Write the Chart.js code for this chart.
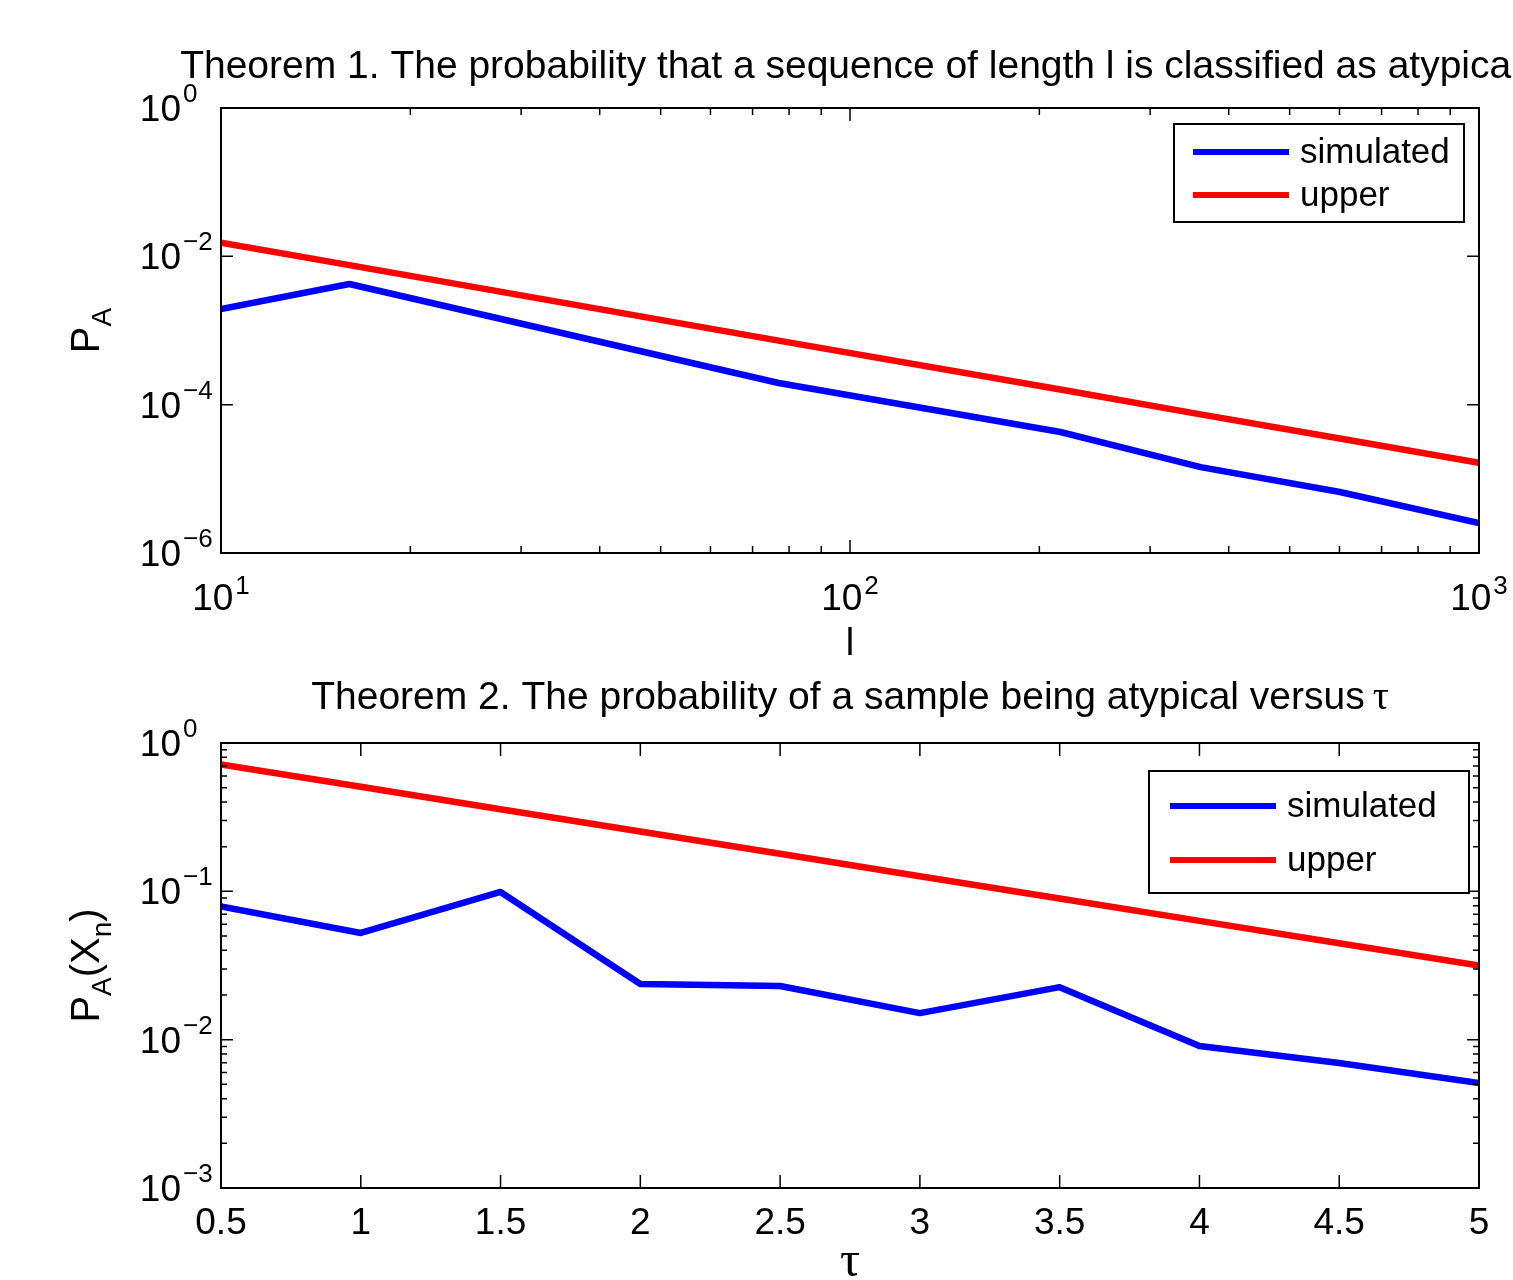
<!DOCTYPE html>
<html lang="en">
<head>
<meta charset="UTF-8">
<title>Atypical sequences - theorems 1 and 2</title>
<script src="https://cdn.jsdelivr.net/npm/chart.js"></script>
<style>
    body { margin: 0; background: #fff; }
    .wrap { position: relative; width: 1513px; height: 1280px; overflow: hidden; }
    canvas { position: absolute; left: 0; }
</style>
</head>
<body>
<div class="wrap">
    <canvas id="theorem1" width="1513" height="660" style="top:0"></canvas>
    <canvas id="theorem2" width="1513" height="620" style="top:660px"></canvas>
</div>
<script>
// Theorem 1 : P_A against sequence length l (log-log)
const lengths = [10, 16, 77, 216, 361, 601, 1000];
const simulated1 = [1.95e-3, 4.24e-3, 1.96e-4, 4.28e-5, 1.44e-5, 6.65e-6, 2.54e-6];
const upper1 = [1.53e-2, 7.6e-3, 7.3e-4, 1.6e-4, 7.4e-5, 3.5e-5, 1.64e-5];

// Theorem 2 : P_A(X_n) against tau
const taus = [0.5, 1, 1.5, 2, 2.5, 3, 3.5, 4, 4.5, 5];
const simulated2 = [0.079, 0.0524, 0.099, 0.0237, 0.023, 0.0151, 0.0226, 0.00906, 0.00696, 0.0051];
const upper2 = [0.717, 0.507, 0.358, 0.253, 0.179, 0.1265, 0.0895, 0.0632, 0.0447, 0.0316];

// tick labels
const xTicks1 = [10, 100, 1000];
const yTicks1 = [1, 1e-2, 1e-4, 1e-6];
const xTicks2 = [0.5, 1, 1.5, 2, 2.5, 3, 3.5, 4, 4.5, 5];
const yTicks2 = [1, 1e-1, 1e-2, 1e-3];

const SANS = "'Liberation Sans', Arial, Helvetica, sans-serif";
const SERIF = "'Liberation Serif', 'Times New Roman', serif";

function expText(v) {
    const e = Math.round(Math.log10(v));
    return (e < 0 ? '\u2212' : '') + Math.abs(e);
}

// "10" with a raised exponent; mode 'y' = right edge of "10" at x, mode 'x' = centred on x
function powLabel(ctx, v, x, base, mode, rise) {
    ctx.font = '37px ' + SANS;
    const wb = ctx.measureText('10').width;
    ctx.font = '26px ' + SANS;
    const we = ctx.measureText(expText(v)).width;
    const left = mode === 'y' ? x - wb : x - (wb + 2 + we) / 2;
    ctx.textAlign = 'left';
    ctx.font = '37px ' + SANS;
    ctx.fillText('10', left, base);
    ctx.font = '26px ' + SANS;
    ctx.fillText(expText(v), left + wb + 2, base - rise);
}

// text made of pieces (for subscripts / mixed fonts), centred on (x, y)
function richText(ctx, parts, x, y, rotate) {
    ctx.save();
    ctx.translate(x, y);
    if (rotate) ctx.rotate(-Math.PI / 2);
    let total = 0;
    parts.forEach(p => { ctx.font = p.font; p.w = ctx.measureText(p.text).width + (p.gap || 0); total += p.w; });
    let cx = -total / 2;
    ctx.textAlign = 'left';
    parts.forEach(p => {
        ctx.font = p.font;
        ctx.fillText(p.text, cx + (p.gap || 0), p.dy || 0);
        cx += p.w;
    });
    ctx.restore();
}

function logMinors(min, max) {
    const out = [];
    for (let k = Math.floor(Math.log10(min)); k < Math.log10(max); k++) {
        for (let m = 2; m <= 9; m++) out.push(m * Math.pow(10, k));
    }
    return out;
}

const matlabAxes = {
    id: 'matlabAxes',
    afterDatasetsDraw(chart, args, o) {
        const ctx = chart.ctx, a = chart.chartArea;
        const xs = chart.scales.x, ys = chart.scales.y;
        ctx.save();
        ctx.strokeStyle = '#000';
        ctx.fillStyle = '#000';
        ctx.lineWidth = 1.5;

        const xt = (v, len) => {
            const p = xs.getPixelForValue(v);
            ctx.beginPath();
            ctx.moveTo(p, a.bottom); ctx.lineTo(p, a.bottom - len);
            ctx.moveTo(p, a.top); ctx.lineTo(p, a.top + len);
            ctx.stroke();
        };
        const yt = (v, len) => {
            const p = ys.getPixelForValue(v);
            ctx.beginPath();
            ctx.moveTo(a.left, p); ctx.lineTo(a.left + len, p);
            ctx.moveTo(a.right, p); ctx.lineTo(a.right - len, p);
            ctx.stroke();
        };
        o.xTicks.forEach(v => xt(v, 13));
        if (o.xMinor) logMinors(xs.min, xs.max).forEach(v => xt(v, 7));
        o.yTicks.forEach(v => yt(v, 12));
        if (o.yMinor) logMinors(ys.min, ys.max).forEach(v => yt(v, 6));

        ctx.lineWidth = 2;
        ctx.strokeRect(a.left, a.top, a.right - a.left, a.bottom - a.top);

        // tick labels
        ctx.textBaseline = 'alphabetic';
        o.yTicks.forEach(v => powLabel(ctx, v, a.left - 40, ys.getPixelForValue(v) + 13, 'y', 19));
        o.xTicks.forEach(v => {
            const p = xs.getPixelForValue(v);
            if (o.xLog) {
                powLabel(ctx, v, p, a.bottom + 57, 'x', 16);
            } else {
                ctx.font = '37px ' + SANS;
                ctx.textAlign = 'center';
                ctx.fillText(String(v), p, a.bottom + 46);
            }
        });

        const cx = (a.left + a.right) / 2;
        richText(ctx, o.title, cx, o.titleY, false);
        richText(ctx, o.xLabel, cx, o.xLabelY, false);
        richText(ctx, o.yLabel, 99, (a.top + a.bottom) / 2, true);

        // legend
        const L = o.legend;
        ctx.fillStyle = '#fff';
        ctx.fillRect(L.left, L.top, L.right - L.left, L.bottom - L.top);
        ctx.lineWidth = 2;
        ctx.strokeRect(L.left, L.top, L.right - L.left, L.bottom - L.top);
        chart.data.datasets.forEach((ds, i) => {
            const y = L.rows[i];
            ctx.strokeStyle = ds.borderColor;
            ctx.lineWidth = 6;
            ctx.beginPath();
            ctx.moveTo(L.lineFrom, y); ctx.lineTo(L.lineTo, y);
            ctx.stroke();
            ctx.fillStyle = '#000';
            ctx.font = '35px ' + SANS;
            ctx.textAlign = 'left';
            ctx.textBaseline = 'middle';
            ctx.fillText(ds.label, L.textX, y + 1);
        });
        ctx.restore();
    }
};

function series(xs, ys) {
    return xs.map((x, i) => ({ x: x, y: ys[i] }));
}

function lineDs(label, data, color) {
    return {
        label: label, data: data, borderColor: color, backgroundColor: color,
        borderWidth: 6.5, pointRadius: 0, tension: 0, fill: false,
        borderJoinStyle: 'round'
    };
}

new Chart(document.getElementById('theorem1'), {
    type: 'line',
    data: {
        datasets: [
            lineDs('simulated', series(lengths, simulated1), '#0000ff'),
            lineDs('upper', series(lengths, upper1), '#ff0000')
        ]
    },
    options: {
        responsive: false,
        animation: false,
        layout: { padding: { left: 221, right: 34, top: 108, bottom: 107 } },
        scales: {
            x: { type: 'logarithmic', min: 10, max: 1000, display: false },
            y: { type: 'logarithmic', min: 1e-6, max: 1, display: false }
        },
        plugins: {
            legend: { display: false },
            tooltip: { enabled: false },
            matlabAxes: {
                xTicks: xTicks1, yTicks: yTicks1, xMinor: true, yMinor: false, xLog: true,
                title: [{ text: 'Theorem 1. The probability that a sequence of length l is classified as atypical', font: '39px ' + SANS }],
                titleY: 78,
                xLabel: [{ text: 'l', font: '38px ' + SANS }],
                xLabelY: 655,
                yLabel: [
                    { text: 'P', font: '40px ' + SANS },
                    { text: 'A', font: '28px ' + SANS, dy: 12 }
                ],
                legend: { left: 1174, top: 124, right: 1464, bottom: 222, lineFrom: 1193, lineTo: 1289, textX: 1300, rows: [152, 195] }
            }
        }
    },
    plugins: [matlabAxes]
});

new Chart(document.getElementById('theorem2'), {
    type: 'line',
    data: {
        datasets: [
            lineDs('simulated', series(taus, simulated2), '#0000ff'),
            lineDs('upper', series(taus, upper2), '#ff0000')
        ]
    },
    options: {
        responsive: false,
        animation: false,
        layout: { padding: { left: 221, right: 34, top: 83, bottom: 92 } },
        scales: {
            x: { type: 'linear', min: 0.5, max: 5, display: false },
            y: { type: 'logarithmic', min: 1e-3, max: 1, display: false }
        },
        plugins: {
            legend: { display: false },
            tooltip: { enabled: false },
            matlabAxes: {
                xTicks: xTicks2, yTicks: yTicks2, xMinor: false, yMinor: true, xLog: false,
                title: [
                    { text: 'Theorem 2. The probability of a sample being atypical versus', font: '39px ' + SANS },
                    { text: '\u03c4', font: '40px ' + SERIF, gap: 8 }
                ],
                titleY: 49,
                xLabel: [{ text: '\u03c4', font: '50px ' + SERIF }],
                xLabelY: 616,
                yLabel: [
                    { text: 'P', font: '40px ' + SANS },
                    { text: 'A', font: '28px ' + SANS, dy: 12 },
                    { text: '(X', font: '40px ' + SANS },
                    { text: 'n', font: '28px ' + SANS, dy: 12 },
                    { text: ')', font: '40px ' + SANS }
                ],
                legend: { left: 1149, top: 111, right: 1469, bottom: 233, lineFrom: 1170, lineTo: 1276, textX: 1287, rows: [146, 200] }
            }
        }
    },
    plugins: [matlabAxes]
});
</script>
</body>
</html>
